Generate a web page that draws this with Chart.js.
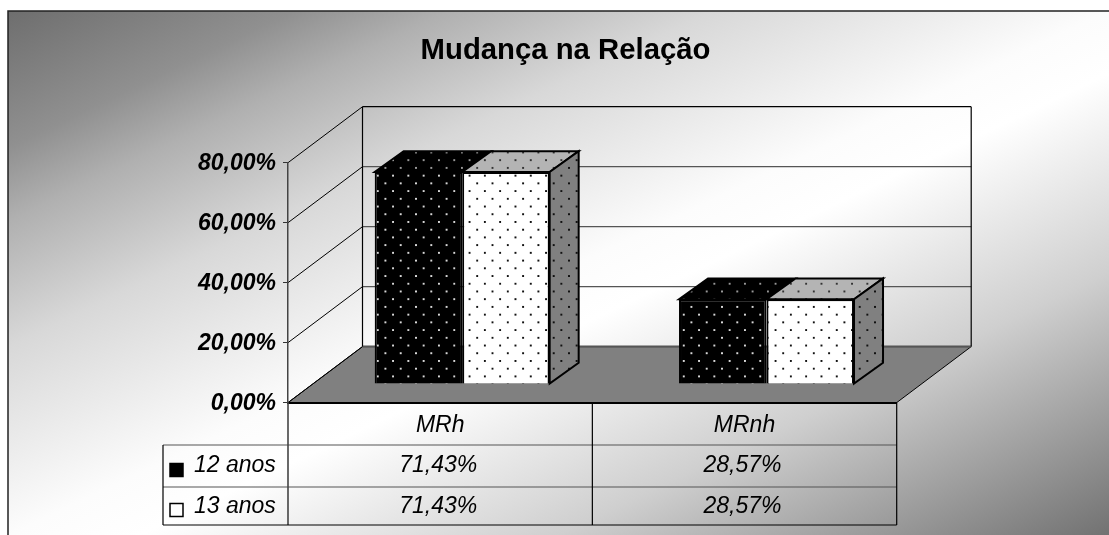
<!DOCTYPE html>
<html><head><meta charset="utf-8"><style>html,body{margin:0;padding:0;background:#fff}canvas{display:block}</style>
<script src="https://cdn.jsdelivr.net/npm/chart.js@4"></script></head>
<body><canvas id="c" width="1109" height="535"></canvas>
<script>
const titleText = "Mudança na Relação";
const categories = ["MRh", "MRnh"];
const seriesNames = ["12 anos", "13 anos"];
const values12 = [71.43, 28.57];
const values13 = [71.43, 28.57];
const FONT = '"Liberation Sans", Arial, sans-serif';
const fmt = v => v.toFixed(2).replace('.', ',') + '%';

function dots(bg, fg, phaseX, phaseY) {
  const t = document.createElement('canvas'); t.width = 16; t.height = 16;
  const g = t.getContext('2d'); g.fillStyle = bg; g.fillRect(0, 0, 16, 16);
  g.fillStyle = fg;
  g.fillRect(3, 3, 2, 2); g.fillRect(11, 11, 2, 2);
  const p = g.createPattern(t, 'repeat');
  p.setTransform(new DOMMatrix().translate(phaseX, phaseY).scale(15.3 / 16, 15.6 / 16));
  return p;
}
const DEPTH = {x: 74.5, y: 56};
const BAR_DEPTH = {x: 29, y: 21};
const SHIFT = {x: 22, y: -18.6};
const pBlack = dots('#000', '#d8d8d8', 0, 1), pWhite = dots('#fff', '#111', 0, 1);
const pBlackTop = dots('#000', '#999', 0, 1), pWhiteTop = dots('#b4b4b4', '#333', 0, 1);
const pSide = dots('#808080', '#111', 0, 1);
const gradientStops = [[0, '#6e6e6e'], [0.13, '#909090'], [0.2, '#b0b0b0'], [0.32, '#d8d8d8'], [0.5, '#fcfcfc'], [0.56, '#ffffff'], [0.75, '#cfcfcf'], [1, '#727272']];

const scene = {
  id: 'scene',
  beforeDraw(ch) {
    const c = ch.ctx, x = ch.scales.x, y = ch.scales.y, W = ch.width, H = ch.height;
    const L = x.left, R = x.right, B = y.bottom, T = y.top;
    const grad = c.createLinearGradient(355, -154, 762, 700);
    gradientStops.forEach(s => grad.addColorStop(s[0], s[1]));
    c.save();
    c.fillStyle = grad; c.fillRect(8, 11, W - 8, H - 11);
    c.strokeStyle = '#222'; c.lineWidth = 1.5;
    c.beginPath(); c.moveTo(8, H); c.lineTo(8, 11); c.lineTo(W, 11); c.stroke();
    // floor
    c.fillStyle = '#808080';
    c.beginPath(); c.moveTo(L, B); c.lineTo(L + DEPTH.x, B - DEPTH.y); c.lineTo(R + DEPTH.x, B - DEPTH.y); c.lineTo(R, B); c.closePath(); c.fill();
    c.strokeStyle = '#000'; c.lineWidth = 1; c.stroke();
    // walls
    y.ticks.forEach(t => {
      const py = y.getPixelForValue(t.value);
      c.strokeStyle = '#000'; c.lineWidth = 1;
      c.beginPath(); c.moveTo(L, py); c.lineTo(L + DEPTH.x, py - DEPTH.y); c.stroke();
      c.strokeStyle = t.value === y.max ? '#000' : '#555'; c.lineWidth = t.value === 0 ? 2 : 1.2;
      c.beginPath(); c.moveTo(L + DEPTH.x, py - DEPTH.y); c.lineTo(R + DEPTH.x, py - DEPTH.y); c.stroke();
    });
    c.strokeStyle = '#000'; c.lineWidth = 1.2;
    c.beginPath(); c.moveTo(L + DEPTH.x, T - DEPTH.y); c.lineTo(L + DEPTH.x, B - DEPTH.y);
    c.moveTo(R + DEPTH.x, T - DEPTH.y); c.lineTo(R + DEPTH.x, B - DEPTH.y); c.stroke();
    // title
    c.fillStyle = '#000'; c.font = 'bold 29.3px ' + FONT; c.textAlign = 'center'; c.textBaseline = 'middle';
    c.fillText(titleText, 565.5, 51);
    c.restore();
  },
  beforeDatasetsDraw(ch) {
    const c = ch.ctx, base = ch.scales.y.bottom;
    c.save();
    c.translate(SHIFT.x, SHIFT.y + base * 0.01);
    c.scale(1, 0.99);
  },
  afterDatasetsDraw(ch) {
    const c = ch.ctx;
    const tops = [pBlackTop, pWhiteTop];
    c.lineJoin = 'miter'; c.strokeStyle = '#000'; c.lineWidth = 2;
    ch.data.datasets.forEach((d, i) => {
      ch.getDatasetMeta(i).data.forEach(b => {
        const l = b.x - b.width / 2, r = b.x + b.width / 2, t = b.y, bt = b.base;
        c.fillStyle = tops[i];
        c.beginPath(); c.moveTo(l, t); c.lineTo(r, t); c.lineTo(r + BAR_DEPTH.x, t - BAR_DEPTH.y); c.lineTo(l + BAR_DEPTH.x, t - BAR_DEPTH.y); c.closePath(); c.fill(); c.stroke();
        if (i === ch.data.datasets.length - 1) {
          c.fillStyle = pSide;
          c.beginPath(); c.moveTo(r, t); c.lineTo(r + BAR_DEPTH.x, t - BAR_DEPTH.y); c.lineTo(r + BAR_DEPTH.x, bt - BAR_DEPTH.y); c.lineTo(r, bt); c.closePath(); c.fill(); c.stroke();
        }
      });
    });
    c.restore();
  },
  afterDraw(ch) {
    const c = ch.ctx, x = ch.scales.x, y = ch.scales.y;
    const L = x.left, R = x.right, B = y.bottom;
    const rows = [445, 487, 525], KX = 163;
    const mid = (L + R) / 2;
    c.save();
    c.strokeStyle = '#555'; c.lineWidth = 1.2;
    c.beginPath();
    c.moveTo(KX, rows[1]); c.lineTo(R, rows[1]);
    c.moveTo(KX, rows[0]); c.lineTo(R, rows[0]);
    c.stroke();
    c.strokeStyle = '#444'; c.lineWidth = 1.6;
    c.beginPath(); c.moveTo(L, B); c.lineTo(L, rows[2]); c.stroke();
    c.strokeStyle = '#000'; c.lineWidth = 1.2;
    c.beginPath();
    c.moveTo(mid, B); c.lineTo(mid, rows[2]);
    c.moveTo(KX, rows[2]); c.lineTo(R, rows[2]);
    c.moveTo(KX, rows[0]); c.lineTo(KX, rows[2]);
    c.moveTo(R, B); c.lineTo(R, rows[2]);
    c.stroke();
    const series = [values12, values13], ys = [466, 506.5], keyFill = ['#000', '#fff'], keyY = [463.5, 503.5];
    c.font = 'italic 23px ' + FONT; c.textBaseline = 'middle'; c.fillStyle = '#000';
    series.forEach((vals, i) => {
      c.fillStyle = keyFill[i]; c.strokeStyle = '#000'; c.lineWidth = 1.5;
      c.fillRect(170, keyY[i], 13, 13); c.strokeRect(170, keyY[i], 13, 13);
      c.fillStyle = '#000'; c.textAlign = 'left';
      c.fillText(seriesNames[i], 194, ys[i]);
      c.textAlign = 'center';
      vals.forEach((v, j) => c.fillText(fmt(v), x.getPixelForValue(j) - 2, ys[i]));
    });
    c.restore();
  }
};

new Chart(document.getElementById('c'), {
  type: 'bar',
  data: {labels: categories, datasets: [
    {label: seriesNames[0], data: values12, backgroundColor: pBlack, borderColor: '#000', borderWidth: 2, clip: false},
    {label: seriesNames[1], data: values13, backgroundColor: pWhite, borderColor: '#000', borderWidth: 2, clip: false}
  ]},
  options: {
    responsive: false, animation: false,
    events: [],
    layout: {padding: {top: 162.7, right: 1109 - 896.7, left: 0, bottom: 0}},
    datasets: {bar: {categoryPercentage: 0.575, barPercentage: 1}},
    plugins: {legend: {display: false}, title: {display: false}, tooltip: {enabled: false}},
    scales: {
      x: {
        afterFit: s => { s.height = 535 - 402.6; },
        grid: {display: false},
        border: {display: true, color: '#000', width: 2},
        ticks: {color: '#000', padding: 1, maxRotation: 0, font: {family: FONT, size: 23, style: 'italic'}}
      },
      y: {
        min: 0, max: 80,
        afterFit: s => { s.width = 288; },
        grid: {drawOnChartArea: false, tickLength: 5, color: '#333'},
        border: {display: true, color: '#444', width: 1.5},
        ticks: {stepSize: 20, color: '#000', padding: 7, labelOffset: 1, callback: v => fmt(v), font: {family: FONT, size: 23, style: 'italic', weight: 'bold'}}
      }
    }
  },
  plugins: [scene]
});
</script></body></html>
